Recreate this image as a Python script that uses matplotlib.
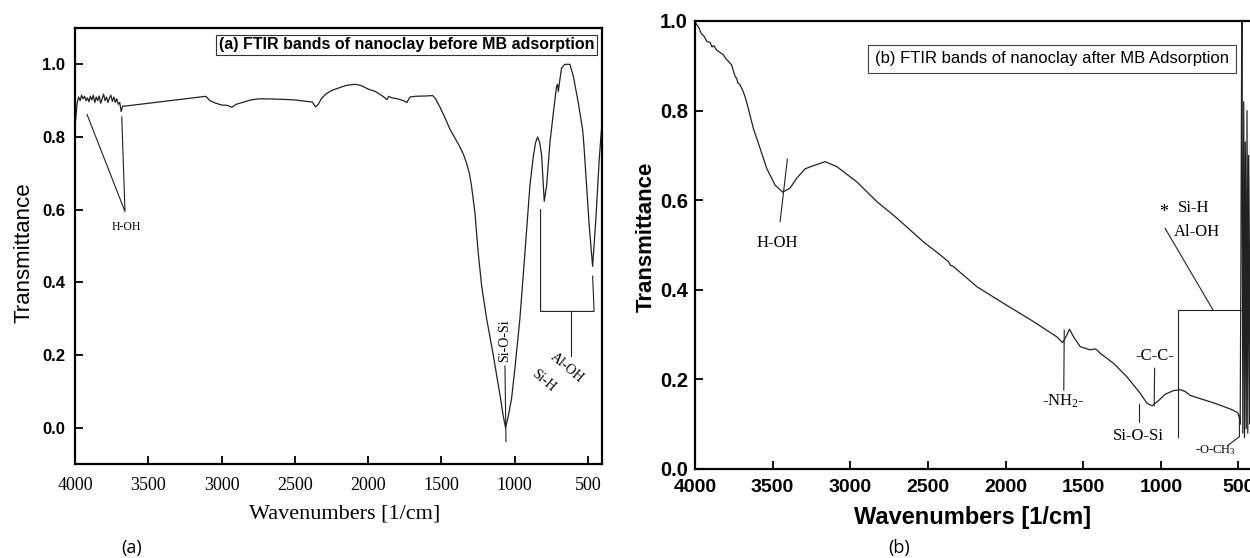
import matplotlib
matplotlib.use("Agg")
import matplotlib.pyplot as plt

plt.rcParams['mathtext.fontset'] = 'custom'
plt.rcParams['mathtext.rm'] = 'Liberation Serif'

SANS = 'Liberation Sans'
SERIF = 'Liberation Serif'

# ---------------- data: panel (a) before adsorption ----------------
wn_a = [4000, 3985, 3975, 3965, 3955, 3945, 3935, 3925, 3915, 3905, 3895, 3885,
        3875, 3865, 3855, 3845, 3835, 3825, 3815, 3805, 3795, 3785, 3775, 3765,
        3755, 3745, 3735, 3725, 3715, 3705, 3695, 3685, 3675, 3660,
        3107, 3080, 3040, 3000, 2960, 2930, 2900, 2860, 2800, 2750, 2700, 2600,
        2500, 2420, 2380, 2360, 2340, 2320, 2290, 2250, 2200, 2150, 2090, 2050,
        2000, 1950, 1900, 1872, 1860, 1840, 1800, 1760, 1736, 1715, 1680, 1600,
        1560, 1540, 1510, 1475, 1443, 1405, 1374, 1350, 1329, 1310, 1295, 1272,
        1249, 1226, 1192, 1147, 1101, 1080, 1063, 1045, 1022, 1000, 965, 931, 897,
        874, 858, 844, 830, 817, 799, 783, 760, 737, 715, 708, 703, 695, 681, 658,
        624, 601, 567, 537, 528, 510, 492, 469, 447, 424, 405]
tr_a = [0.83, 0.895, 0.91, 0.90, 0.915, 0.905, 0.912, 0.90, 0.908, 0.897, 0.912, 0.902,
        0.915, 0.895, 0.91, 0.90, 0.913, 0.893, 0.905, 0.918, 0.90, 0.91, 0.895, 0.907,
        0.915, 0.898, 0.91, 0.895, 0.905, 0.89, 0.895, 0.87, 0.885, 0.885,
        0.912, 0.90, 0.893, 0.888, 0.887, 0.882, 0.89, 0.895, 0.902, 0.905, 0.905, 0.904,
        0.902, 0.898, 0.896, 0.883, 0.89, 0.905, 0.918, 0.928, 0.935, 0.942, 0.945, 0.942,
        0.932, 0.925, 0.912, 0.903, 0.912, 0.908, 0.905, 0.90, 0.895, 0.91, 0.912, 0.913,
        0.914, 0.905, 0.882, 0.852, 0.822, 0.795, 0.772, 0.752, 0.728, 0.70, 0.665, 0.592,
        0.48, 0.39, 0.30, 0.20, 0.09, 0.035, 0.0, 0.03, 0.08, 0.16, 0.30, 0.48, 0.665,
        0.745, 0.785, 0.80, 0.785, 0.75, 0.623, 0.665, 0.785, 0.866, 0.94, 0.945, 0.925, 0.95, 0.99, 1.0,
        1.0, 0.968, 0.895, 0.82, 0.775, 0.665, 0.555, 0.444, 0.573, 0.738, 0.84]

# ---------------- data: panel (b) after adsorption ----------------
wn_b = [4000, 3975, 3960, 3940, 3925, 3903, 3890, 3880, 3860, 3840, 3818, 3800,
        3790, 3764, 3750, 3740, 3731, 3725, 3710, 3689, 3675,
        3657, 3624, 3581, 3538, 3485, 3435, 3388, 3345, 3291, 3238, 3162, 3087,
        2958, 2829, 2700, 2529, 2421, 2368, 2355, 2336, 2185, 2014, 1820, 1670,
        1633, 1611, 1588, 1562, 1519, 1455, 1425, 1412, 1390, 1305, 1219, 1133,
        1090, 1057, 1014, 971, 918, 875, 843, 810, 746, 682, 639, 553, 505, 493,
        489, 485, 478, 472, 466, 461, 456, 450, 445, 440, 435, 428, 422]
tr_b = [0.998, 0.985, 0.972, 0.965, 0.955, 0.952, 0.942, 0.945, 0.935, 0.93, 0.925, 0.915,
        0.912, 0.902, 0.885, 0.875, 0.872, 0.862, 0.858, 0.842, 0.828,
        0.805, 0.760, 0.716, 0.671, 0.634, 0.618, 0.627, 0.649, 0.670, 0.677, 0.686, 0.675,
        0.641, 0.597, 0.560, 0.507, 0.478, 0.463, 0.455, 0.452, 0.407, 0.370, 0.329, 0.295,
        0.282, 0.295, 0.312, 0.295, 0.273, 0.266, 0.268, 0.266, 0.258, 0.236, 0.206, 0.169,
        0.147, 0.141, 0.153, 0.167, 0.175, 0.177, 0.173, 0.164, 0.157, 0.150, 0.145, 0.134, 0.126, 0.114,
        0.10, 0.40, 1.08, 0.08, 0.82, 0.07, 0.73, 0.09, 0.80, 0.08, 0.70, 0.10, 0.75]

xticks = [4000, 3500, 3000, 2500, 2000, 1500, 1000, 500]
yticks_a = [0.0, 0.2, 0.4, 0.6, 0.8, 1.0]
yticks_b = [0.0, 0.2, 0.4, 0.6, 0.8, 1.0]

title_a = "(a) FTIR bands of nanoclay before MB adsorption"
title_b = "(b) FTIR bands of nanoclay after MB Adsorption"

fig = plt.figure(figsize=(12.5, 5.58), dpi=100)
fig.patch.set_facecolor('white')

lc = '#222222'

# ---------------- panel (a) ----------------
axa = fig.add_axes([75/1250, 1-464/558, (602-75)/1250, (464-28)/558])
axa.plot(wn_a, tr_a, color=lc, lw=0.9)
axa.set_xlim(4000, 405)
axa.set_ylim(-0.1, 1.1)
axa.set_xticks(xticks)
axa.set_yticks(yticks_a)
axa.set_xticklabels([str(t) for t in xticks], fontfamily=SERIF, fontsize=13)
axa.set_yticklabels([f"{t:.1f}" for t in yticks_a], fontfamily=SANS, fontsize=12, fontweight='bold')
axa.tick_params(axis='x', direction='in', length=6, width=1.3, pad=9)
axa.tick_params(axis='y', direction='in', length=6, width=1.3, pad=7)
for s in axa.spines.values():
    s.set_linewidth(1.6)
axa.set_xlabel("Wavenumbers [1/cm]", fontfamily=SERIF, fontsize=16)
axa.xaxis.set_label_coords((345-75)/(602-75), -(505-464)/(464-28))
axa.set_ylabel("Transmittance", fontfamily=SANS, fontsize=16)
axa.yaxis.set_label_coords(-(75-35)/(602-75), 0.5 - (253-246)/(464-28))
axa.text(0.5 + (406-338)/527, 1-(45-28)/436, title_a, transform=axa.transAxes,
         ha='center', va='center', fontfamily=SANS, fontsize=11.5, fontweight='bold',
         bbox=dict(boxstyle='square,pad=0.15', fc='white', ec='#333333', lw=0.8))

# H-OH
axa.plot([3918, 3659, 3681], [0.862, 0.595, 0.855], color=lc, lw=0.8)
axa.text(3652, 0.551, "H-OH", fontfamily=SERIF, fontsize=8.5, ha='center', va='center')
# Si-O-Si
axa.plot([1067, 1060], [0.17, -0.038], color=lc, lw=0.8)
axa.text(1067, 0.24, "Si-O-Si", fontfamily=SERIF, fontsize=10, rotation=90,
         ha='center', va='center')
# Al-OH / Si-H bracket
axa.plot([824, 824, 459, 469], [0.60, 0.32, 0.32, 0.417], color=lc, lw=0.8)
axa.plot([617, 617], [0.32, 0.196], color=lc, lw=0.8)
axa.text(647, 0.165, "Al-OH", fontfamily=SERIF, fontsize=10, rotation=-40,
         ha='center', va='center', rotation_mode='anchor')
axa.text(806, 0.13, "Si-H", fontfamily=SERIF, fontsize=10, rotation=-40,
         ha='center', va='center', rotation_mode='anchor')

# ---------------- panel (b) ----------------
axb = fig.add_axes([695/1250, 1-469/558, (1254-695)/1250, (469-21)/558])
axb.plot(wn_b, tr_b, color=lc, lw=0.9)
axb.set_xlim(4000, 400)
axb.set_ylim(0.0, 1.0)
axb.set_xticks(xticks)
axb.set_yticks(yticks_b)
axb.set_xticklabels([str(t) for t in xticks], fontfamily=SANS, fontsize=14, fontweight='bold')
axb.set_yticklabels([f"{t:.1f}" for t in yticks_b], fontfamily=SANS, fontsize=14.5, fontweight='bold')
axb.tick_params(axis='x', direction='in', length=6, width=1.3, pad=7)
axb.tick_params(axis='y', direction='in', length=6, width=1.3, pad=5)
for s in axb.spines.values():
    s.set_linewidth(1.6)
axb.set_xlabel("Wavenumbers [1/cm]", fontfamily=SANS, fontsize=17, fontweight='bold')
axb.xaxis.set_label_coords((973-695)/(1254-695), -(506-469)/(469-21))
axb.set_ylabel("Transmittance", fontfamily=SANS, fontsize=16, fontweight='bold')
axb.yaxis.set_label_coords(-(695-657)/(1254-695), 0.5 + (245-237)/(469-21))
axb.text((1052-695)/559, 1-(59-21)/448, title_b, transform=axb.transAxes,
         ha='center', va='center', fontfamily=SANS, fontsize=12,
         bbox=dict(boxstyle='square,pad=0.4', fc='white', ec='#444444', lw=0.8))

# H-OH
axb.plot([3452, 3405], [0.552, 0.692], color=lc, lw=0.8)
axb.text(3472, 0.504, "H-OH", fontfamily=SERIF, fontsize=12, ha='center', va='center')
# -NH2-
axb.plot([1625, 1622], [0.176, 0.31], color=lc, lw=0.8)
axb.text(1629, 0.150, r"-N$\mathregular{H_2}$-", fontfamily=SERIF, fontsize=12,
         ha='center', va='center')
# Si-O-Si
axb.plot([1140, 1140], [0.105, 0.145], color=lc, lw=0.8)
axb.text(1144, 0.074, "Si-O-Si", fontfamily=SERIF, fontsize=12, ha='center', va='center')
# -C-C-
axb.plot([1040, 1043], [0.225, 0.141], color=lc, lw=0.8)
axb.text(1036, 0.252, "-C-C-", fontfamily=SERIF, fontsize=12, ha='center', va='center')
# Si-H / Al-OH bracket
axb.plot([892, 892, 420], [0.072, 0.355, 0.355], color=lc, lw=0.8)
axb.plot([972, 664], [0.537, 0.355], color=lc, lw=0.8)
axb.text(983, 0.573, "*", fontfamily=SERIF, fontsize=13, ha='center', va='center')
axb.text(789, 0.583, "Si-H", fontfamily=SERIF, fontsize=12, ha='center', va='center')
axb.text(767, 0.53, "Al-OH", fontfamily=SERIF, fontsize=12, ha='center', va='center')
# -O-CH3
axb.plot([564, 494, 494], [0.054, 0.072, 0.12], color=lc, lw=0.8)
axb.text(650, 0.042, r"-O-C$\mathregular{H_3}$", fontfamily=SERIF, fontsize=9,
         ha='center', va='center')

# captions
fig.text(132/1250, 1-548/558, "(a)", fontfamily='Open Sans', fontsize=13, ha='center', va='center')
fig.text(899/1250, 1-548/558, "(b)", fontfamily='Open Sans', fontsize=13, ha='center', va='center')

fig.savefig("out.png", dpi=100, facecolor='white')
